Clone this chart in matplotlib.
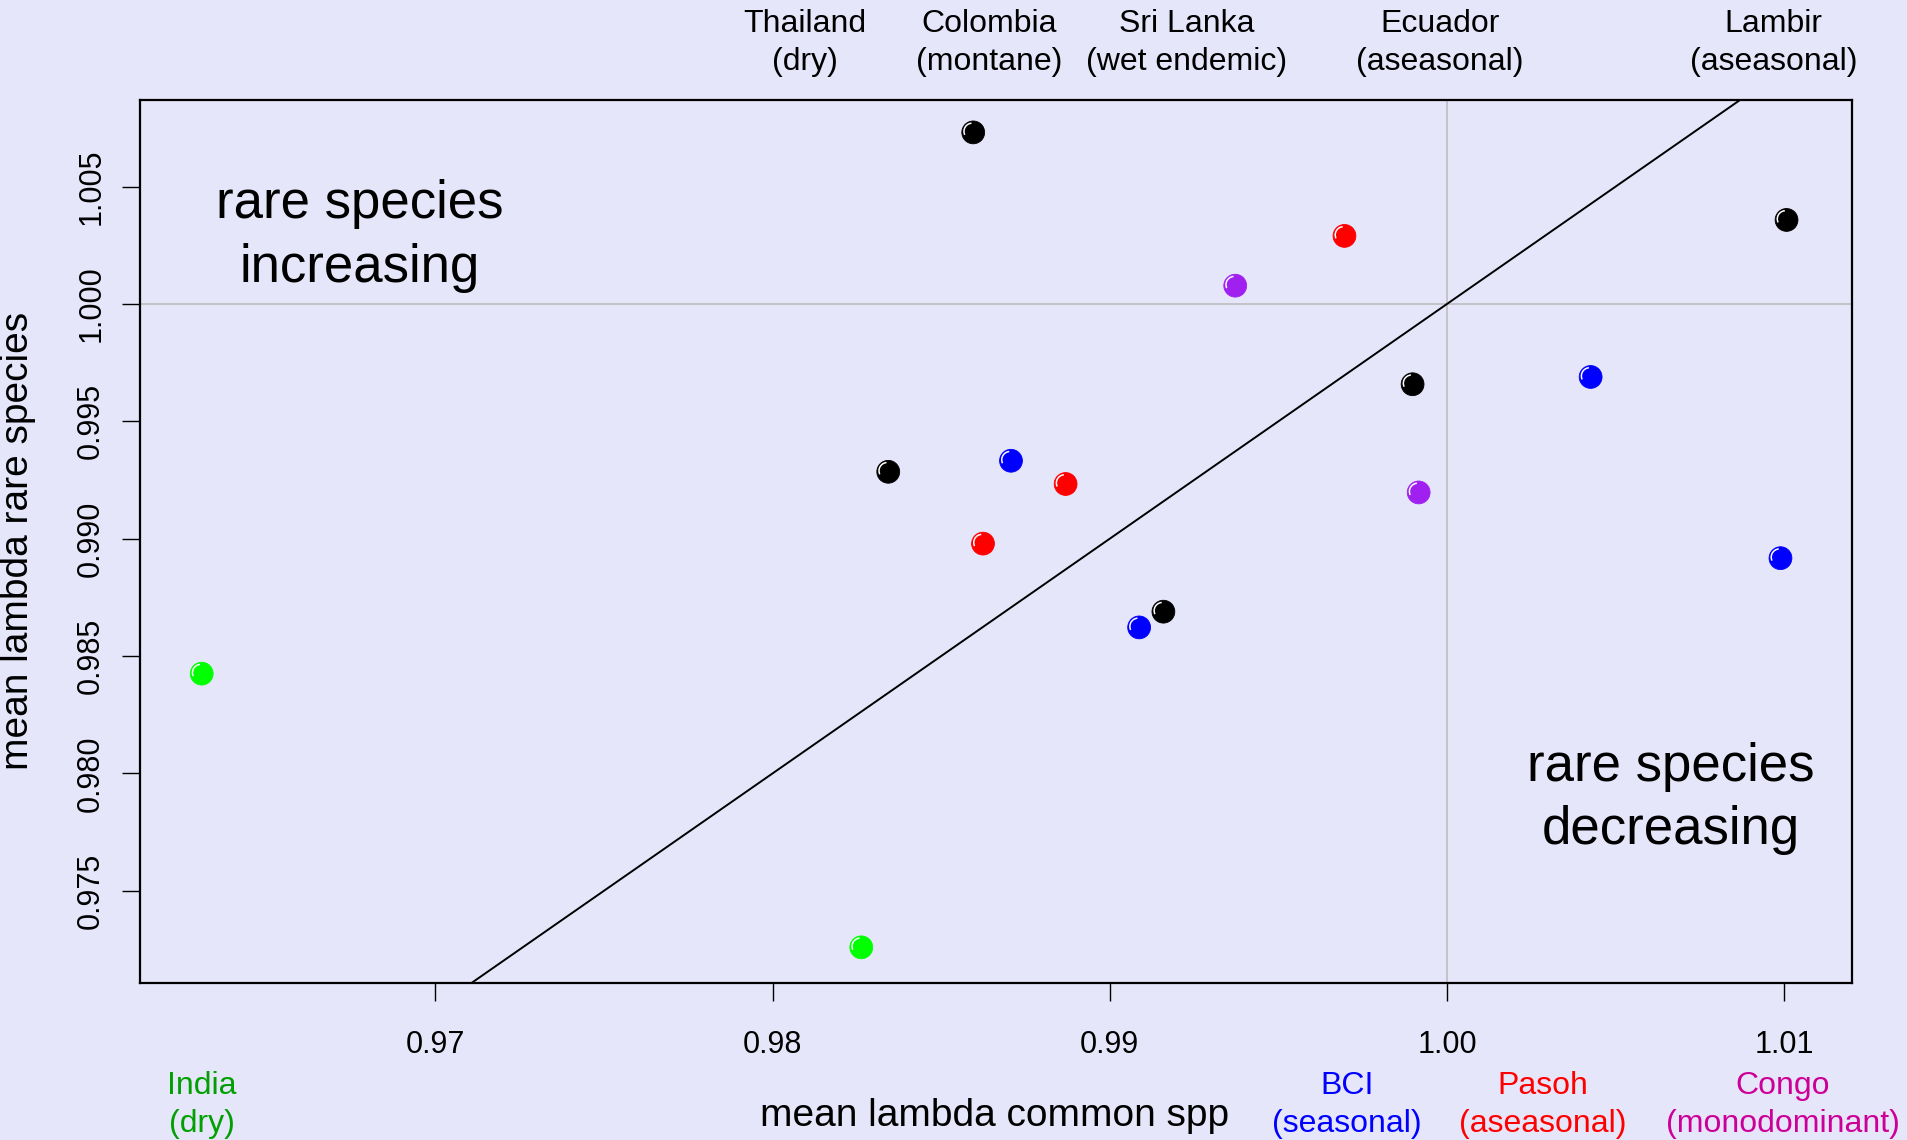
import matplotlib
matplotlib.use("Agg")
import matplotlib.pyplot as plt
from matplotlib.patches import Arc
from matplotlib.transforms import ScaledTranslation, blended_transform_factory

plt.rcParams["font.family"] = ["Liberation Sans", "DejaVu Sans"]

# Mean population growth rate of common vs rare species per plot
sites = ["India", "India", "other", "other", "BCI", "Pasoh", "Pasoh", "Congo",
         "Pasoh", "other", "Congo", "BCI", "other", "BCI", "other", "BCI"]
lambda_common = [0.96307, 0.98263, 0.98595, 0.98343, 0.98707, 0.98869, 0.98624, 0.99372,
                 0.99696, 0.99898, 0.99916, 0.99087, 0.99159, 1.00426, 1.01007, 1.00989]
lambda_rare = [0.98425, 0.97259, 1.00731, 0.99285, 0.99332, 0.99233, 0.98979, 1.00078,
               1.00290, 0.99658, 0.99197, 0.98622, 0.98689, 0.99689, 1.00358, 0.98917]

site_colors = {"India": "#00FF00", "other": "#000000", "BCI": "#0000FF",
               "Pasoh": "#FF0000", "Congo": "#A020F0"}

# Site names along the top (black points) and coloured key along the bottom
top_labels = [("Thailand", "(dry)"), ("Colombia", "(montane)"), ("Sri Lanka", "(wet endemic)"),
              ("Ecuador", "(aseasonal)"), ("Lambir", "(aseasonal)")]
top_label_x = [0.98097, 0.98642, 0.99227, 0.99978, 1.00968]
bottom_labels = [("India", "(dry)"), ("BCI", "(seasonal)"), ("Pasoh", "(aseasonal)"),
                 ("Congo", "(monodominant)")]
bottom_label_x = [0.96307, 0.99703, 1.00285, 1.00996]
bottom_label_colors = ["#00A000", "#0000FF", "#FF0000", "#CC0099"]

x_ticks = [0.97, 0.98, 0.99, 1.00, 1.01]
x_tick_labels = ["0.97", "0.98", "0.99", "1.00", "1.01"]
y_ticks = [0.975, 0.980, 0.985, 0.990, 0.995, 1.000, 1.005]
y_tick_labels = ["0.975", "0.980", "0.985", "0.990", "0.995", "1.000", "1.005"]

bg = "#E6E6FA"
W, H = 1907, 1140
fig = plt.figure(figsize=(W / 100, H / 100), dpi=100, facecolor=bg)
ax = fig.add_axes([139.5 / W, 1 - 983 / H, (1852.3 - 139.5) / W, (983 - 100) / H])
ax.set_facecolor(bg)
ax.set_xlim(0.961225, 1.01202)
ax.set_ylim(0.97107, 1.00869)

# reference lines: no change in either group, and equal change
ax.axhline(1.0, color="#BEBEBE", lw=1.2, zorder=1)
ax.axvline(1.0, color="#BEBEBE", lw=1.2, zorder=1)
ax.axline((1.0, 1.0), slope=1.0, color="black", lw=1.4, zorder=2)

cols = [site_colors[s] for s in sites]
ax.scatter(lambda_common, lambda_rare, s=270, c=cols, edgecolors=cols, linewidths=0.6, zorder=3)

# small white glint on each ball
for x, y in zip(lambda_common, lambda_rare):
    tr = fig.dpi_scale_trans + ScaledTranslation(x, y, ax.transData)
    ax.add_patch(Arc((-0.010, 0.010), 0.165, 0.165, theta1=95, theta2=205,
                     color="white", lw=1.1, transform=tr, zorder=4))

for sp in ax.spines.values():
    sp.set_linewidth(1.6)
    sp.set_color("black")

ax.set_xticks(x_ticks)
ax.set_xticklabels(x_tick_labels)
ax.set_yticks(y_ticks)
ax.set_yticklabels(y_tick_labels, rotation=90, va="center")
ax.tick_params(axis="x", length=13, width=1.0, pad=21, labelsize=22)
ax.tick_params(axis="y", length=13, width=1.0, pad=11, labelsize=22)

fig.text(995 / W, 1 - 1116 / H, "mean lambda common spp", ha="center", va="center", fontsize=28)
fig.text(18 / W, 1 - 541 / H, "mean lambda rare species", ha="center", va="center",
         rotation=90, fontsize=28)

tb = blended_transform_factory(ax.transData, fig.transFigure)
for (l1, l2), x in zip(top_labels, top_label_x):
    fig.text(x, 1 - 24 / H, l1, ha="center", va="center", fontsize=23, transform=tb)
    fig.text(x, 1 - 62 / H, l2, ha="center", va="center", fontsize=23, transform=tb)
for (l1, l2), x, c in zip(bottom_labels, bottom_label_x, bottom_label_colors):
    fig.text(x, 1 - 1086 / H, l1, ha="center", va="center", fontsize=23, color=c, transform=tb)
    fig.text(x, 1 - 1124 / H, l2, ha="center", va="center", fontsize=23, color=c, transform=tb)

# quadrant annotations
ax.text(0.96776, 1.00426, "rare species", ha="center", va="center", fontsize=38)
ax.text(0.96776, 1.00153, "increasing", ha="center", va="center", fontsize=38)
ax.text(1.00663, 0.98026, "rare species", ha="center", va="center", fontsize=38)
ax.text(1.00663, 0.97758, "decreasing", ha="center", va="center", fontsize=38)

fig.savefig("out.png", dpi=100, facecolor=bg)
